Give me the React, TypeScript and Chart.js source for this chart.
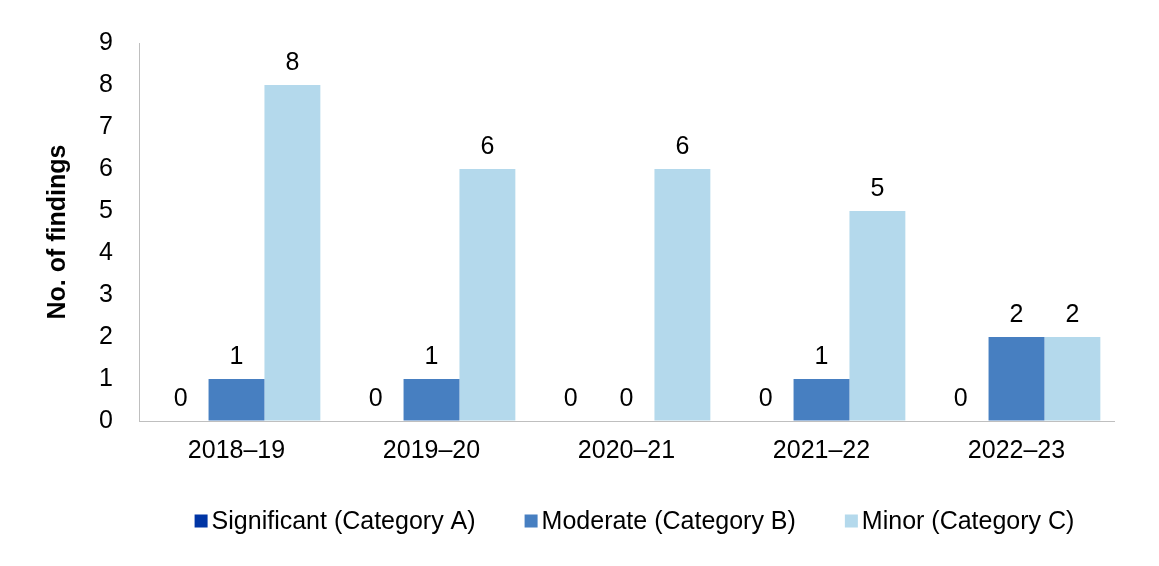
import React, { useEffect, useRef } from "react";
import { Chart, registerables } from "chart.js";

Chart.register(...registerables);

const categories = ["2018–19", "2019–20", "2020–21", "2021–22", "2022–23"];
const seriesNames = ["Significant (Category A)", "Moderate (Category B)", "Minor (Category C)"];
const significant = [0, 0, 0, 0, 0];
const moderate = [1, 1, 0, 1, 2];
const minor = [8, 6, 6, 5, 2];
const seriesColors = ["#0035A5", "#477FC1", "#B4D9EC"];
const yTicks = [0, 1, 2, 3, 4, 5, 6, 7, 8, 9];
const yTitle = "No. of findings";

const FONT = "'Liberation Sans', Arial, sans-serif";
const FS = 25;

const valueLabels = {
  id: "valueLabels",
  afterDatasetsDraw(chart: any) {
    const ctx = chart.ctx;
    ctx.save();
    ctx.font = `${FS}px ${FONT}`;
    ctx.fillStyle = "#000";
    ctx.textAlign = "center";
    ctx.textBaseline = "alphabetic";
    chart.data.datasets.forEach((ds: any, i: number) => {
      const meta = chart.getDatasetMeta(i);
      meta.data.forEach((bar: any, j: number) => {
        ctx.fillText(String(ds.data[j]), bar.x, bar.y - 15);
      });
    });
    ctx.restore();
  },
};

const customLegend = {
  id: "customLegend",
  afterDraw(chart: any) {
    const ctx = chart.ctx;
    ctx.save();
    ctx.font = `${FS}px ${FONT}`;
    ctx.textBaseline = "middle";
    ctx.textAlign = "left";
    const box = 13;
    const gap = 4;
    const itemGap = 49;
    const items = chart.data.datasets.map((ds: any) => ({
      text: ds.label,
      color: ds.backgroundColor,
      w: ctx.measureText(ds.label).width,
    }));
    const total =
      items.reduce((s: number, it: any) => s + box + gap + it.w, 0) + itemGap * (items.length - 1);
    const cx = 634.5;
    const cy = chart.chartArea.bottom + 100;
    let x = cx - total / 2;
    items.forEach((it: any) => {
      ctx.fillStyle = it.color;
      ctx.fillRect(x, cy - box / 2, box, box);
      x += box + gap;
      ctx.fillStyle = "#000";
      ctx.fillText(it.text, x, cy + 1);
      x += it.w + itemGap;
    });
    ctx.restore();
  },
};

export default function App() {
  const ref = useRef<HTMLCanvasElement>(null);
  useEffect(() => {
    if (!ref.current) return;
    const chart = new Chart(ref.current, {
      type: "bar",
      data: {
        labels: categories,
        datasets: [significant, moderate, minor].map((d, i) => ({
          label: seriesNames[i],
          data: d,
          backgroundColor: seriesColors[i],
          borderWidth: 0,
          categoryPercentage: 0.86,
          barPercentage: 1,
        })),
      },
      options: {
        animation: false,
        responsive: true,
        maintainAspectRatio: false,
        layout: { padding: { top: 43, right: 45, bottom: 0, left: 0 } },
        plugins: {
          legend: { display: false },
          tooltip: { enabled: false },
        },
        scales: {
          x: {
            grid: { color: "transparent", drawTicks: false },
            border: { display: true, color: "#BFBFBF", width: 1 },
            ticks: {
              color: "#000",
              font: { family: FONT, size: FS },
              padding: 15,
              maxRotation: 0,
            },
            afterFit(scale: any) {
              scale.height = 145;
            },
          },
          y: {
            min: 0,
            max: 9,
            afterBuildTicks(scale: any) {
              scale.ticks = yTicks.map((v) => ({ value: v }));
            },
            grid: { color: "transparent", drawTicks: false },
            border: { display: true, color: "#BFBFBF", width: 1 },
            ticks: {
              color: "#000",
              font: { family: FONT, size: FS },
              padding: 26,
            },
            title: {
              display: true,
              text: yTitle,
              color: "#000",
              font: { family: FONT, size: FS, weight: "bold" },
              padding: { top: 43, bottom: 0 },
            },
            afterFit(scale: any) {
              scale.width = 139;
            },
          },
        },
      },
      plugins: [valueLabels, customLegend],
    });
    return () => chart.destroy();
  }, []);
  return (
    <div style={{ position: "fixed", left: 0, top: 0, width: 1159, height: 566, background: "#fff" }}>
      <canvas ref={ref} />
    </div>
  );
}
